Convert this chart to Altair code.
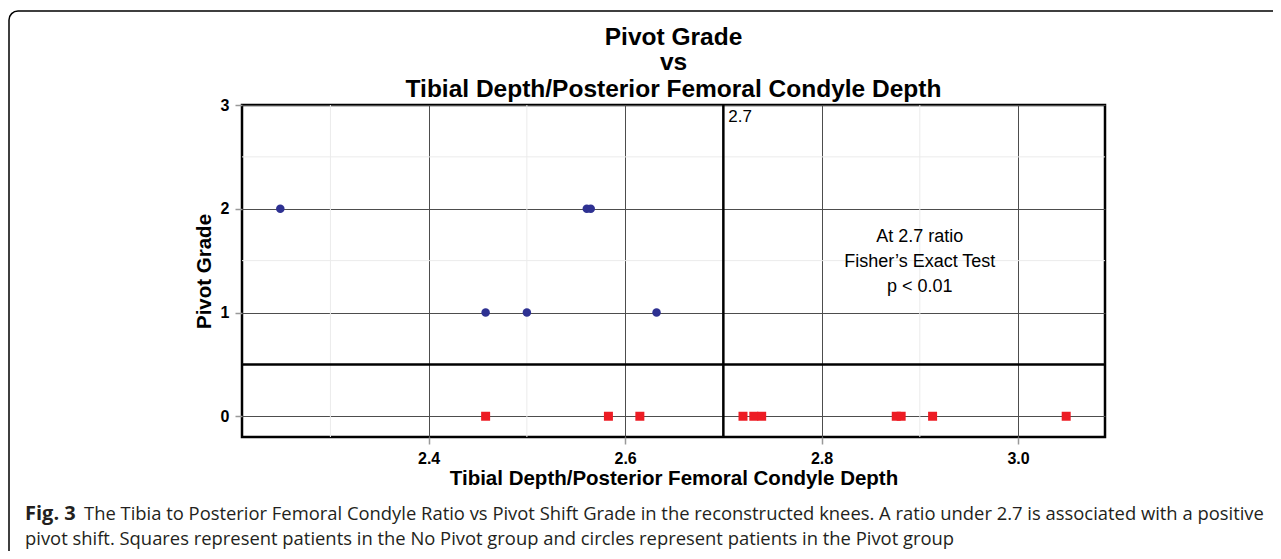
import altair as alt
import pandas as pd

# ---- data ----
pivot_ratio = [2.249, 2.561, 2.565, 2.458, 2.500, 2.632]
pivot_grade = [2, 2, 2, 1, 1, 1]
nopivot_ratio = [2.458, 2.583, 2.615, 2.720, 2.731, 2.739, 2.876, 2.881, 2.913, 3.049]
nopivot_grade = [0] * len(nopivot_ratio)

x_ticks = [2.4, 2.6, 2.8, 3.0]
x_minor = [2.3, 2.5, 2.7, 2.9]
y_ticks = [0, 1, 2, 3]
y_minor = [0.5, 1.5, 2.5]
cut_ratio = [2.7]
cut_grade = [0.5]

title_lines = ["Pivot Grade", "vs", "Tibial Depth/Posterior Femoral Condyle Depth"]
x_title = "Tibial Depth/Posterior Femoral Condyle Depth"
y_title = "Pivot Grade"
cut_label = ["2.7"]
stat_text = ["At 2.7 ratio", "Fisher\u2019s Exact Test", "p < 0.01"]
caption_bold = "Fig. 3"
caption_line1 = "The Tibia to Posterior Femoral Condyle Ratio vs Pivot Shift Grade in the reconstructed knees. A ratio under 2.7 is associated with a positive"
caption_line2 = "pivot shift. Squares represent patients in the No Pivot group and circles represent patients in the Pivot group"

FONT = "Liberation Sans"
CAP_FONT = "Open Sans"

xscale = alt.Scale(domain=[2.21, 3.0885], nice=False, zero=False)
yscale = alt.Scale(domain=[-0.2, 3], nice=False, zero=False)

xaxis = alt.Axis(values=x_ticks, format=".1f", title=x_title, grid=True,
                 gridColor="#4d4d4d", gridWidth=1, tickColor="#999999",
                 tickSize=7, tickWidth=1.5, labelPadding=6, titlePadding=2, domain=False)
yaxis = alt.Axis(values=y_ticks, format="d", title=y_title, grid=True,
                 gridColor="#4d4d4d", gridWidth=1, tickColor="#999999",
                 tickSize=7, tickWidth=1.5, labelPadding=6, titlePadding=6, domain=False)

df_p = pd.DataFrame({"ratio": pivot_ratio, "grade": pivot_grade})
df_n = pd.DataFrame({"ratio": nopivot_ratio, "grade": nopivot_grade})

base_axes = alt.Chart(df_n).mark_point(opacity=0).encode(
    x=alt.X("ratio:Q", scale=xscale, axis=xaxis),
    y=alt.Y("grade:Q", scale=yscale, axis=yaxis),
)

minor_x = alt.Chart(pd.DataFrame({"v": x_minor})).mark_rule(color="#ebebeb", strokeWidth=1).encode(
    x=alt.X("v:Q", scale=xscale))
minor_y = alt.Chart(pd.DataFrame({"v": y_minor})).mark_rule(color="#ebebeb", strokeWidth=1).encode(
    y=alt.Y("v:Q", scale=yscale))

vline = alt.Chart(pd.DataFrame({"v": cut_ratio})).mark_rule(color="black", strokeWidth=2.5).encode(
    x=alt.X("v:Q", scale=xscale))
hline = alt.Chart(pd.DataFrame({"v": cut_grade})).mark_rule(color="black", strokeWidth=2.5).encode(
    y=alt.Y("v:Q", scale=yscale))

circles = alt.Chart(df_p).mark_circle(color="#2e3192", size=72, opacity=1).encode(
    x=alt.X("ratio:Q", scale=xscale), y=alt.Y("grade:Q", scale=yscale))
squares = alt.Chart(df_n).mark_square(color="#ed1c24", size=81, opacity=1).encode(
    x=alt.X("ratio:Q", scale=xscale), y=alt.Y("grade:Q", scale=yscale))

cut_txt = alt.Chart(pd.DataFrame({"x": cut_ratio, "y": [3], "t": cut_label})).mark_text(
    font=FONT, fontSize=17, align="left", baseline="top", dx=5, dy=4, color="black").encode(
    x=alt.X("x:Q", scale=xscale), y=alt.Y("y:Q", scale=yscale), text="t:N")

stat = alt.Chart(pd.DataFrame({"x": [2.9], "y": [1.73], "t": ["\n".join(stat_text)]})).mark_text(
    font=FONT, fontSize=18, align="center", baseline="middle", lineBreak="\n", lineHeight=25,
    color="black").encode(
    x=alt.X("x:Q", scale=xscale), y=alt.Y("y:Q", scale=yscale), text="t:N")

layers = [base_axes, minor_x, minor_y, vline, hline, circles, squares, cut_txt, stat]

# title lines
title_y = [-60, -35, -8]
for line, yy in zip(title_lines, title_y):
    layers.append(alt.Chart(pd.DataFrame({"t": [line]})).mark_text(
        font=FONT, fontSize=24.5, fontWeight="bold", align="center", baseline="alphabetic",
        color="black").encode(x=alt.value(431.5), y=alt.value(yy), text="t:N"))

# outer rounded frame
frame = alt.Chart(pd.DataFrame({"t": [0]})).mark_rect(
    fill="transparent", stroke="black", strokeWidth=1.5, cornerRadius=9).encode(
    x=alt.value(-233), x2=alt.value(1060), y=alt.value(-94), y2=alt.value(455))
layers.append(frame)

# caption
cap_color = "#231f20"
layers.append(alt.Chart(pd.DataFrame({"t": [caption_bold]})).mark_text(
    font=CAP_FONT, fontSize=20, fontWeight="bold", align="left", baseline="alphabetic",
    color=cap_color).encode(x=alt.value(-217), y=alt.value(415), text="t:N"))
layers.append(alt.Chart(pd.DataFrame({"t": [caption_line1]})).mark_text(
    font=CAP_FONT, fontSize=18.4, align="left", baseline="alphabetic",
    color=cap_color).encode(x=alt.value(-158), y=alt.value(415), text="t:N"))
layers.append(alt.Chart(pd.DataFrame({"t": [caption_line2]})).mark_text(
    font=CAP_FONT, fontSize=18.4, align="left", baseline="alphabetic",
    color=cap_color).encode(x=alt.value(-217), y=alt.value(440), text="t:N"))

chart = alt.layer(*layers).properties(
    width=863, height=332,
    autosize=alt.AutoSizeParams(type="none"),
    padding={"left": 234, "top": 97, "right": 168, "bottom": 114},
    background="white",
).configure_view(stroke="black", strokeWidth=2.5).configure_axis(
    labelFont=FONT, labelFontSize=16, labelFontWeight="bold", labelColor="black",
    titleFont=FONT, titleFontSize=20.5, titleFontWeight="bold", titleColor="black",
)

chart.save("out.html", embed_options={"renderer": "svg", "actions": False})
